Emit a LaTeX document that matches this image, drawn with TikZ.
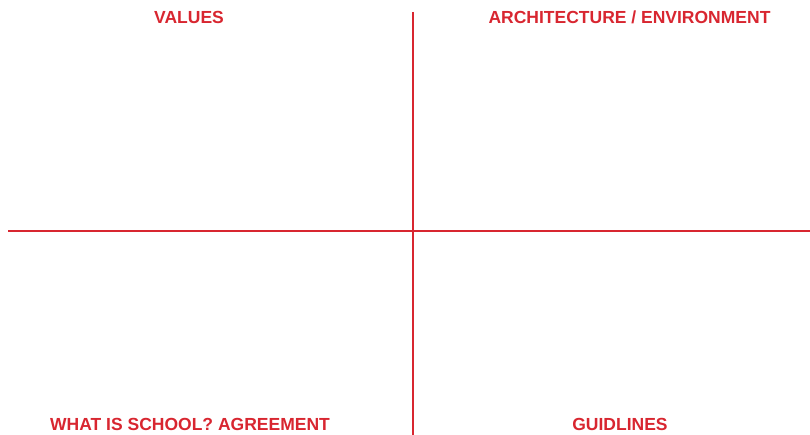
\documentclass[tikz,border=0pt]{standalone}
\usepackage{fontspec}
\setmainfont{Liberation Sans}
\usetikzlibrary{positioning}
\definecolor{gridred}{RGB}{216,38,48}

\begin{document}
\begin{tikzpicture}[x=1pt, y=-1pt, every node/.style={font=\bfseries\fontsize{17.5}{19}\selectfont, text=gridred, inner sep=0pt, anchor=base}]
    \useasboundingbox (0,0) rectangle (810,435);
    \coordinate (top) at (413,12);
    \coordinate (bottom) at (413,435);
    \coordinate (left) at (8,231);
    \coordinate (right) at (810,231);

    \node[] (values) at (189,23.5) {VALUES};
    \node[] (architecture) at (629.5,23.5) {ARCHITECTURE / ENVIRONMENT};
    \node[] (school) at (190,430) {WHAT IS SCHOOL? AGREEMENT};
    \node[] (guidlines) at (620,430) {GUIDLINES};

    \draw[color=gridred, line width=1.1pt]
    (top) -- (bottom)
    (left) -- (right);
  \end{tikzpicture}
\end{document}
